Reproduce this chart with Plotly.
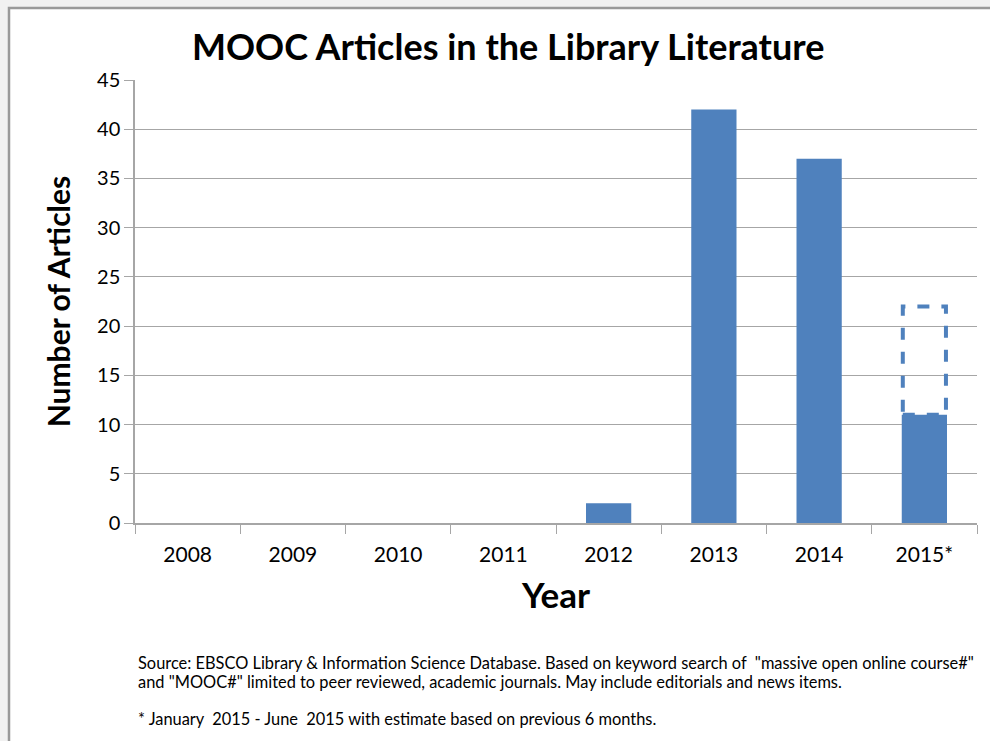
import plotly.graph_objects as go

years = ["2008", "2009", "2010", "2011", "2012", "2013", "2014", "2015*"]
articles = [0, 0, 0, 0, 2, 42, 37, 11]
estimate_2015 = 22
y_ticks = [0, 5, 10, 15, 20, 25, 30, 35, 40, 45]

BLUE = "#4f81bd"
FONT = "Lato"
bar_w = 0.43
xs = list(range(len(years)))

fig = go.Figure()
fig.add_trace(go.Bar(x=xs, y=articles, width=bar_w, marker=dict(color=BLUE, line=dict(width=0)),
                     showlegend=False, hoverinfo="x+y"))

# dashed estimate outline for last year
i = len(years) - 1
fig.add_shape(type="rect", xref="x", yref="y",
              x0=xs[i] - bar_w / 2 + 0.01, x1=xs[i] + bar_w / 2 - 0.01,
              y0=articles[i], y1=estimate_2015,
              line=dict(color=BLUE, width=4, dash="dash"), fillcolor="rgba(0,0,0,0)", layer="above")

W, H = 990, 741
L, R, T, B = 135, 13, 80, 218
PW, PH = W - L - R, H - T - B

def px_x(v):
    return (v - L) / PW

def px_y(v):
    return (H - v - B) / PH

fig.update_layout(
    width=W, height=H,
    margin=dict(l=L, r=R, t=T, b=B),
    paper_bgcolor="#f1f1f1",
    plot_bgcolor="white",
    font=dict(family=FONT, color="#000000"),
    bargap=0.57,
    xaxis=dict(
        tickmode="array", tickvals=xs, ticktext=years, range=[-0.5, len(years) - 0.5],
        showgrid=False, showline=True, linecolor="#a6a6a6", linewidth=1.5,
        ticks="", tickfont=dict(size=21, family=FONT), ticklabelstandoff=12,
        zeroline=False, fixedrange=True,
        title=dict(text="<b>Year</b>", font=dict(size=35, family=FONT), standoff=19),
        minor=dict(tickmode="array", tickvals=[x - 0.5 for x in xs] + [xs[-1] + 0.5],
                   ticks="outside", ticklen=9, tickcolor="#a6a6a6", showgrid=False),
    ),
    yaxis=dict(
        range=[0, 45], tickvals=y_ticks, showgrid=True, gridcolor="#a6a6a6", gridwidth=1,
        showline=True, linecolor="#a6a6a6", linewidth=1.5,
        ticks="outside", ticklen=9, tickcolor="#a6a6a6",
        tickfont=dict(size=20, family=FONT), zeroline=False,
        title=dict(text="<b>Number of Articles</b>", font=dict(size=30, family=FONT), standoff=18),
    ),
)

# white frame panel behind everything
fig.add_shape(type="rect", xref="paper", yref="paper",
              x0=px_x(9), x1=px_x(W + 5),
              y0=px_y(H + 5), y1=px_y(8),
              line=dict(color="#999999", width=2.5), fillcolor="white", layer="below")

fig.add_annotation(text="<b>MOOC Articles in the Library Literature</b>", xref="paper", yref="paper",
                   x=px_x(508), y=px_y(46),
                   showarrow=False, font=dict(size=36, family=FONT), xanchor="center", yanchor="middle")

notes = [
    ('Source: EBSCO Library &amp; Information Science Database. Based on keyword search of  "massive open online course#"', 662),
    ('and "MOOC#" limited to peer reviewed, academic journals. May include editorials and news items.', 681),
    ('* January  2015 - June  2015 with estimate based on previous 6 months.', 718),
]
for txt, ypx in notes:
    fig.add_annotation(text=txt, xref="paper", yref="paper",
                       x=px_x(136), y=px_y(ypx),
                       showarrow=False, xanchor="left", yanchor="middle",
                       font=dict(size=16.4, family=FONT))

fig.write_html("out.html", config={"displayModeBar": False},
               post_script="document.body.style.margin='0';document.body.style.background='#f1f1f1';")
